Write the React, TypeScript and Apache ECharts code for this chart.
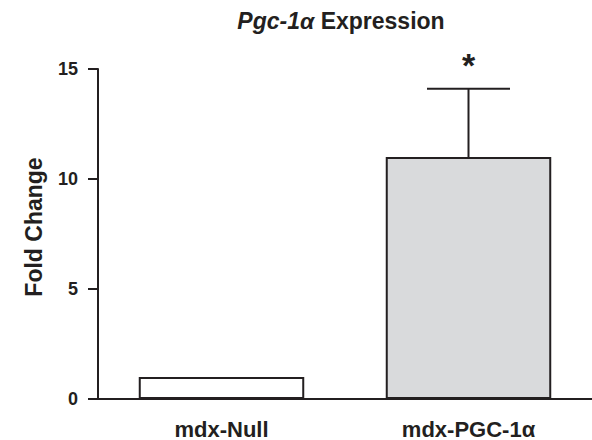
import React, { useEffect, useRef } from "react";
import * as echarts from "echarts";

const categories = ["mdx-Null", "mdx-PGC-1α"];
const foldChange = [1, 11];
const errorUpper = [0, 3.1];
const significance = ["", "*"];
const yTicks = [0, 5, 10, 15];

const INK = "#231f20";
const FONT = "'Liberation Sans', Arial, sans-serif";
const barFills = ["#ffffff", "#d9dadc"];

export default function App() {
  const ref = useRef<HTMLDivElement>(null);
  useEffect(() => {
    if (!ref.current) return;
    const chart = echarts.init(ref.current, undefined, { renderer: "svg" });
    const errData = categories.map((c, i) => [i, foldChange[i], errorUpper[i]]);
    chart.setOption({
      animation: false,
      backgroundColor: "#ffffff",
      grid: { left: 98, top: 69, width: 496, height: 330, containLabel: false },
      graphic: [
        {
          type: "text",
          x: 341,
          y: 21,
          style: {
            text: "{it|Pgc-1α}{b| Expression}",
            fontFamily: FONT,
            fontWeight: "bold",
            fontSize: 23,
            fill: INK,
            align: "center",
            verticalAlign: "middle",
            rich: {
              it: { fontFamily: FONT, fontWeight: "bold", fontStyle: "italic", fontSize: 23, fill: INK },
              b: { fontFamily: FONT, fontWeight: "bold", fontSize: 23, fill: INK },
            },
          },
        },
        {
          type: "text",
          x: 34,
          y: 227,
          rotation: Math.PI / 2,
          style: {
            text: "Fold Change",
            fontFamily: FONT,
            fontWeight: "bold",
            fontSize: 23,
            fill: INK,
            align: "center",
            verticalAlign: "middle",
          },
        },
      ],
      xAxis: {
        type: "category",
        data: categories,
        boundaryGap: true,
        axisLine: { lineStyle: { color: INK, width: 2 } },
        axisTick: { alignWithLabel: true, length: 9, lineStyle: { color: INK, width: 2 } },
        axisLabel: {
          margin: 19,
          color: INK,
          fontFamily: FONT,
          fontWeight: "bold",
          fontSize: 22,
        },
      },
      yAxis: {
        type: "value",
        min: yTicks[0],
        max: yTicks[yTicks.length - 1],
        interval: 5,
        splitLine: { show: false },
        axisLine: { show: true, lineStyle: { color: INK, width: 2 } },
        axisTick: { show: true, length: 10, lineStyle: { color: INK, width: 2 } },
        axisLabel: {
          margin: 20,
          color: INK,
          fontFamily: FONT,
          fontWeight: "bold",
          fontSize: 18,
        },
      },
      series: [
        {
          type: "bar",
          barWidth: "67%",
          data: foldChange.map((v, i) => ({
            value: v,
            itemStyle: { color: barFills[i], borderColor: INK, borderWidth: 2 },
          })),
          z: 2,
        },
        {
          type: "custom",
          data: errData,
          z: 3,
          renderItem: (params: any, api: any) => {
            const idx = api.value(0);
            const val = api.value(1);
            const err = api.value(2);
            const sig = significance[params.dataIndex];
            const base = api.coord([idx, val]);
            const top = api.coord([idx, val + err]);
            const band = api.size([1, 0])[0];
            const half = band * 0.168;
            const children: any[] = [];
            if (err > 0) {
              children.push({
                type: "line",
                shape: { x1: base[0], y1: base[1], x2: top[0], y2: top[1] },
                style: { stroke: INK, lineWidth: 2 },
              });
              children.push({
                type: "line",
                shape: { x1: top[0] - half, y1: top[1], x2: top[0] + half, y2: top[1] },
                style: { stroke: INK, lineWidth: 2 },
              });
            }
            if (sig) {
              children.push({
                type: "text",
                x: top[0],
                y: top[1] - 24,
                style: {
                  text: sig,
                  fontFamily: FONT,
                  fontWeight: "bold",
                  fontSize: 34,
                  fill: INK,
                  align: "center",
                  verticalAlign: "middle",
                },
              });
            }
            return { type: "group", children };
          },
        },
      ],
    });
    return () => chart.dispose();
  }, []);
  return (
    <div style={{ position: "absolute", left: 0, top: 0, width: 592, height: 440, overflow: "hidden" }}>
      <div ref={ref} style={{ width: 592, height: 440 }} />
    </div>
  );
}
